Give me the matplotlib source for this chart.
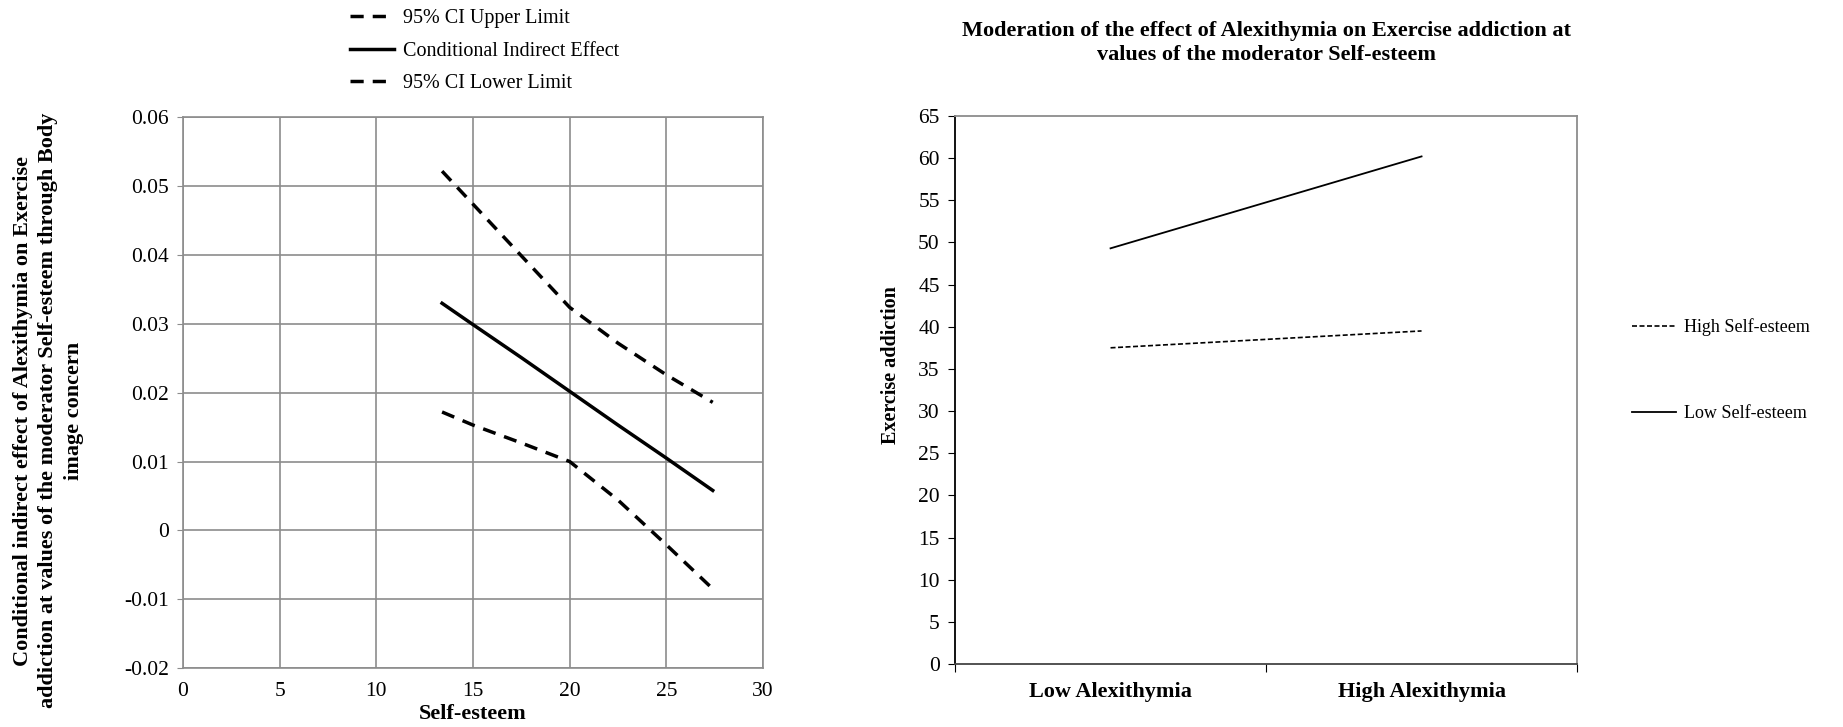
import matplotlib
matplotlib.use("Agg")
import matplotlib.pyplot as plt

plt.rcParams['font.family'] = ['Liberation Serif', 'DejaVu Serif']

# left chart: conditional indirect effect across self-esteem
self_esteem = [13.4, 15, 17.5, 20, 22.5, 25, 27.4]
ci_upper = [0.0522, 0.0474, 0.0399, 0.0324, 0.0272, 0.0226, 0.0186]
cond_effect = [0.0330, 0.0299, 0.0251, 0.0202, 0.0153, 0.0105, 0.0058]
ci_lower = [0.0172, 0.0153, 0.0127, 0.0100, 0.0044, -0.0021, -0.0085]

# right chart: simple slopes
alex_levels = ['Low Alexithymia', 'High Alexithymia']
high_se = [37.5, 39.5]
low_se = [49.3, 60.2]

grey = '#8c8c8c'

fig = plt.figure(figsize=(18.43, 7.27), dpi=100)

# ---- left panel
ax1 = fig.add_axes([0.0993, 0.0812, 0.3147, 0.7572])
dash = (3.8, 2.6)
l_up, = ax1.plot(self_esteem, ci_upper, color='black', lw=2.5, dashes=dash, dash_capstyle='butt')
l_mid, = ax1.plot(self_esteem, cond_effect, color='black', lw=2.5)
l_lo, = ax1.plot(self_esteem, ci_lower, color='black', lw=2.5, dashes=dash, dash_capstyle='butt')
ax1.set_xlim(0, 30)
ax1.set_ylim(-0.02, 0.06)
ax1.set_xticks(range(0, 31, 5))
ax1.set_yticks([-0.02, -0.01, 0, 0.01, 0.02, 0.03, 0.04, 0.05, 0.06])
ax1.set_yticklabels(['-0.02', '-0.01', '0', '0.01', '0.02', '0.03', '0.04', '0.05', '0.06'])
ax1.grid(True, color=grey, lw=1.2)
ax1.set_axisbelow(True)
for s in ax1.spines.values():
    s.set_color(grey)
    s.set_linewidth(1.2)
ax1.tick_params(axis='y', length=4, color=grey, labelsize=15.5, pad=6)
ax1.tick_params(axis='x', length=0, labelsize=15.5, pad=10)
ax1.set_xlabel('Self-esteem', fontsize=16, fontweight='bold', labelpad=2)
fig.text(0.0262, 0.435,
         'Conditional indirect effect of Alexithymia on Exercise\n'
         'addiction at values of the moderator Self-esteem through Body\n'
         'image concern',
         rotation=90, ha='center', va='center', fontsize=16, fontweight='bold',
         multialignment='center', linespacing=1.38)

fig.legend([l_up, l_mid, l_lo],
           ['95% CI Upper Limit', 'Conditional Indirect Effect', '95% CI Lower Limit'],
           loc='upper left', bbox_to_anchor=(0.180, 1.012), frameon=False,
           fontsize=14.5, handlelength=2.2, handletextpad=0.45, labelspacing=0.65)

# ---- right panel
ax2 = fig.add_axes([0.5182, 0.0867, 0.3375, 0.7538])
pos = [0.5, 1.5]
l_high, = ax2.plot(pos, high_se, color='black', lw=1.2, dashes=(3, 1.5))
l_low, = ax2.plot(pos, low_se, color='black', lw=1.3)
ax2.set_xlim(0, 2)
ax2.set_ylim(0, 65)
ax2.set_yticks(range(0, 66, 5))
ax2.set_xticks([0, 1, 2])
ax2.set_xticklabels([])
ax2.set_xticks(pos, minor=True)
ax2.set_xticklabels(alex_levels, minor=True, fontsize=16, fontweight='bold')
ax2.tick_params(axis='x', which='minor', length=0, pad=13)
ax2.tick_params(axis='x', which='major', length=6, color='black')
ax2.tick_params(axis='y', length=5, color='black', labelsize=15.5, pad=6)
ax2.spines['left'].set_color('black')
ax2.spines['bottom'].set_color('#444444')
ax2.spines['top'].set_color(grey)
ax2.spines['right'].set_color(grey)
for s in ax2.spines.values():
    s.set_linewidth(1.3)
ax2.set_ylabel('Exercise addiction', fontsize=14.5, fontweight='bold')
ax2.yaxis.set_label_coords(-0.087, 0.546)
ax2.set_title('Moderation of the effect of Alexithymia on Exercise addiction at\n'
              'values of the moderator Self-esteem',
              fontsize=16, fontweight='bold', pad=40, linespacing=1.32)

fig.legend([l_high, l_low], ['High Self-esteem', 'Low Self-esteem'],
           loc='upper left', bbox_to_anchor=(0.8765, 0.585), frameon=False,
           fontsize=13, handlelength=2.45, handletextpad=0.45, labelspacing=3.85)

fig.savefig('out.png', dpi=100)
